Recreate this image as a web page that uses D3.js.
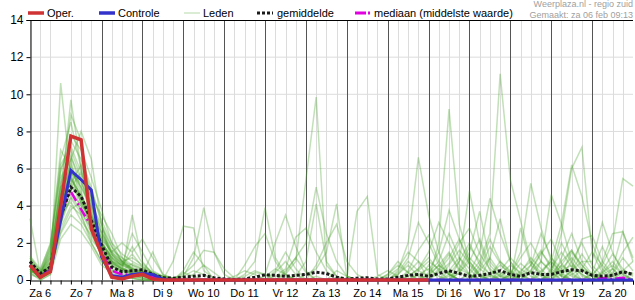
<!DOCTYPE html>
<html>
<head>
<meta charset="utf-8">
<script src="https://cdn.jsdelivr.net/npm/d3@7"></script>
<style>
  body { margin: 0; background: #fff; }
  svg { display: block; font-family: "Liberation Sans", Arial, sans-serif; }
</style>
</head>
<body>
<div id="chart"></div>
<script>
// day labels (shown at noon of each day)
const dayLabels = ['Za 6', 'Zo 7', 'Ma 8', 'Di 9', 'Wo 10', 'Do 11', 'Vr 12', 'Za 13',
                   'Zo 14', 'Ma 15', 'Di 16', 'Wo 17', 'Do 18', 'Vr 19', 'Za 20']
const yTicks = [0, 2, 4, 6, 8, 10, 12, 14]

// neerslag in mm per 6 uur, vanaf za 6 feb 06:00
const oper = [0.8, 0.15, 0.45, 4.0, 7.75, 7.55, 2.75, 1.4, 0.15, 0.05, 0.2, 0.3, 0.05, 0, 0,
  0, 0, 0, 0, 0, 0, 0, 0, 0, 0, 0, 0, 0, 0, 0, 0, 0, 0, 0, 0, 0, 0, 0, 0, 0]

const controle = [0.8, 0.15, 0.5, 3.2, 5.9, 5.4, 4.85, 1.25, 0.25, 0.15, 0.3, 0.35, 0.3, 0.05, 0,
  0, 0, 0, 0, 0, 0, 0, 0, 0, 0, 0, 0, 0, 0, 0, 0, 0, 0, 0, 0, 0, 0, 0, 0, 0,
  0, 0, 0, 0, 0, 0, 0, 0, 0, 0, 0, 0, 0, 0, 0, 0, 0, 0, 0, 0]

const gemiddelde = [1.0, 0.35, 0.7, 3.4, 5.0, 4.5, 3.2, 1.9, 0.7, 0.45, 0.5, 0.55, 0.3, 0.12, 0.1,
  0.15, 0.2, 0.25, 0.12, 0.05, 0.03, 0.05, 0.15, 0.28, 0.25, 0.2, 0.25, 0.3, 0.42, 0.35, 0.15,
  0.05, 0.1, 0.12, 0.05, 0.05, 0.15, 0.25, 0.3, 0.2, 0.35, 0.5, 0.35, 0.2, 0.25, 0.35, 0.5,
  0.3, 0.2, 0.4, 0.3, 0.3, 0.45, 0.55, 0.5, 0.25, 0.2, 0.25, 0.45, 0.3]

const mediaan = [0.8, 0.25, 0.55, 3.7, 4.75, 3.8, 2.9, 1.5, 0.5, 0.3, 0.3, 0.35, 0.15, 0.02, 0,
  0, 0, 0, 0, 0, 0, 0, 0, 0, 0, 0, 0, 0, 0, 0, 0, 0, 0, 0, 0, 0, 0, 0, 0, 0,
  0, 0, 0, 0, 0, 0, 0, 0, 0, 0, 0, 0, 0, 0, 0, 0, 0.1, 0.05, 0.12, 0]

const leden = [
  [0.8,0.2,0.6,10.6,5.5,4.2,3.0,1.8,0.9,0.6,0.4,0.3,0.2,0.1,0, 0,0,0,0, 0,0,0.2,0.5, 0.3,0,0,0, 0,0.2,0,0, 0,0,0,0, 0,0.3,1.0,0.5, 0.2,0.8,1.5,0.6, 0.3,0,0.2,1.0, 0.5,0,0,0.3, 1.2,0.6,0.2,0, 0,0.4,1.0,0.3, 0],
  [0.6,0.1,0.9,4.5,9.7,6.0,3.5,2.0,1.2,0.8,0.5,0.3,0.1,0,1.0, 2.9,2.8,0.5,0.1, 0,0,0,0, 0,0,0.1,0, 0,0,0,0, 0,0,0,0.2, 0.5,0.2,0,0, 0,0,0.3,1.0, 2.0,0.8,0.3,0, 0,0.2,0.5,1.5, 0.8,0.2,0,0, 0.3,0,0,0.5, 1.0],
  [1.0,0.3,1.5,5.0,8.9,7.5,4.0,2.5,1.5,1.0,0.8,0.6,0.3,0.1,0, 0.2,1.2,3.9,1.5, 0.3,0,0,0, 0,0,0,0, 0,0,0,0, 0,0,0,0, 0,0,0,0.3, 0.6,0.2,0,0, 0,0.5,1.2,0.4, 0.1,0,0.8,1.6, 0.6,0.2,1.0,2.0, 0.8,0.2,0,0, 0],
  [0.5,0.2,0.8,3.5,6.5,8.0,6.5,3.0,1.4,0.9,0.6,0.4,0.2,0.1,0.1, 0.3,0.8,1.6,1.5, 0.6,0.1,0,0, 0,0,0.5,1.2, 0.4,0,0,0, 0,0,0,0, 0,0,0,0, 0,0.5,1.2,2.2, 1.0,0.3,0,0, 0.2,0.9,0.4,0, 0,0.3,1.5,0.8, 0.2,0,0.3,1.2, 0.5],
  [3.3,0.4,1.2,4.0,5.5,4.5,3.2,2.0,1.0,0.5,0.3,0.2,0.1,0,0, 0,0,0,0, 0,0,0.3,1.0, 3.9,1.2,0.3,0, 0,0,0,0, 0,0,0,0, 0,0,0.2,0.6, 1.5,3.1,2.0,0.8, 0.3,0,0,0.2, 0.5,0.2,0,0, 0,0.5,0.8,0.3, 0,0,0.6,2.6, 1.2],
  [0.7,0.1,0.4,3.0,4.5,3.8,2.5,1.5,0.8,0.4,3.5,1.0,0.3,0.1,0, 0,0,0,0, 0,0,0,0.4, 0.3,2.0,3.5,1.8, 0.5,0,0,0, 0,0,0,0, 0,0,0,0, 0,0,0.2,0.5, 1.5,3.7,1.0,0.3, 0,0,0,0.5, 1.0,0.4,0,0, 0,0.5,1.4,0.6, 0.2],
  [0.9,0.3,1.8,6.0,7.0,5.5,3.5,2.2,1.5,2.0,1.5,2.2,1.2,0.3,0.1, 0.2,0.5,0.3,0, 0,0,0.8,1.8, 2.5,1.0,0.2,0, 0,0,0,0, 0,0,0,0, 0,0.4,1.2,3.1, 2.0,0.8,0.3,0, 0,0,0,0, 0.3,1.2,2.0,1.0, 0.4,0,0,0, 0,0,0,0, 0],
  [0.4,0.1,0.5,2.5,3.5,3.0,2.0,1.0,0.5,0.3,0.2,0.1,0,0,0, 0,0,0,0, 0,0,0,0, 0,0.2,0.6,2.3, 2.8,1.5,0.5,0, 0,0,0,0, 0,0,0,0.5, 1.0,0.6,0.3,0, 0,0.8,2.2,1.0, 0.4,0,0,0, 0,1.2,2.5,1.0, 0.3,0,0,0, 0],
  [1.2,0.5,2.0,6.5,8.5,6.0,4.5,3.5,2.5,1.2,0.6,0.3,0.2,0,0, 0,0,0,0, 0,0,0,0, 0,0,0.3,1.0, 5.4,9.85,0.8,0.2, 0,0,0,0, 0,0,0,0, 0,0,0,0.4, 1.2,0.6,0.2,0, 0,0,0.5,1.4, 2.2,0.9,0.3,0, 0,0,0.2,0.5, 0.3],
  [0.6,0.2,0.7,4.0,6.0,5.0,3.8,2.8,1.8,1.0,1.2,0.8,0.4,0.2,0.1, 0,0,0,0, 0,0,0,0, 0,0,0.4,1.2, 2.0,5.0,2.5,1.0, 0.2,0,0,0, 0,0,0,0, 0,0,0,0, 0.4,1.5,4.4,2.5, 1.0,0.3,0,0, 0,0,0,0.6, 1.5,0.8,0.2,0, 0],
  [0.8,0,0.3,3.2,5.0,4.5,3.0,1.8,0.7,0.5,0.9,0.6,0.3,0.1,0, 0,0,0,0, 0,0.2,0.5,0.3, 0,0,0,0.2, 1.0,4.1,1.0,0.2, 0,0,0,0, 0.3,0.8,0.4,0, 0,0,0,0, 0,0,0,0, 0.3,1.5,5.2,2.8, 1.0,0.2,0,0, 0,0,0,0, 0],
  [0.5,0.3,1.0,5.5,6.5,4.0,2.8,1.2,0.6,0.3,0.1,0,0,0,0, 0,0,0,0, 0,0,0,0, 0,0,0,0, 0.3,0.6,1.5,4.1, 0.2,0,0,0, 0,0,0,0, 0,0,0,0.6, 1.8,1.0,0.3,0, 0,0,0,0, 0.3,1.0,1.6,0.8, 0.2,0,0,0, 0],
  [1.1,0.4,1.4,4.8,7.5,6.5,5.0,3.0,1.0,0.6,0.5,0.4,0.3,0.2,0.1, 0,0.3,0.8,0.4, 0,0,0,0, 0,0,0,0, 0,0.8,2.0,3.0, 1.0,0.3,0,0, 0,0,0,0, 0,0,0.8,1.6, 0.9,0.2,0,0, 0,0,0,0, 0,0.6,1.2,0.5, 0.2,1.0,2.5,2.6, 1.0],
  [0.3,0.1,0.5,2.8,4.0,3.5,2.2,1.5,1.0,0.8,0.6,0.5,0.2,0,0, 0,0,0,0, 0,0,0,0, 0,0,0,0, 0,0,0,0, 0.1,3.7,4.5,0.3, 0,0,0.2,0.6, 1.2,0.5,0,0, 0,0,0,0.5, 1.2,0.6,0.2,0, 0,0,0,0, 0,0.3,0.6,0.2, 0],
  [0.7,0.2,0.6,3.8,5.8,5.2,4.2,2.0,1.2,0.8,2.5,1.5,0.5,0.2,0, 0,0,0,0, 0,0,0,0, 0,0,0,0, 0,0,0,0, 0,0,0,0, 0,0.5,2.0,6.6, 3.5,1.5,0.3,0, 0,0,0.3,0.8, 0.4,0,0,0, 0,0,0.5,1.4, 0.6,0,0,0, 0],
  [0.9,0.3,1.1,5.2,6.8,4.8,3.0,2.0,1.3,0.9,0.7,0.4,0.2,0.1,0, 0,0,0,0, 0,0,0,0, 0,0,0,0, 0,0,0,0, 0,0,0,0, 0,0,0,0.3, 0,2.0,9.2,3.0, 1.0,0.3,0,0, 0,0,0.4,1.0, 0.5,0,0,0, 0,0,0.4,1.5, 2.3],
  [0.6,0.1,0.4,3.4,4.8,4.0,3.4,2.6,1.6,1.2,0.8,0.5,0.3,0.1,0, 0,0,0,0, 0,0,0,0, 0,0,0,0, 0,0,0,0, 0,0,0,0, 0.2,0.6,1.5,1.0, 0.5,1.5,3.75,2.2, 0.8,0.2,0,0, 0,0.4,1.2,0.6, 0,0,0.5,1.0, 1.0,3.1,1.5,0.4, 0],
  [1.0,0.4,1.6,7.0,6.0,3.5,2.0,1.0,0.5,0.2,0.1,0,0,0,0, 0,0,0,0, 0,0,0,0, 0,0,0,0, 0,0,0,0, 0,0,0,0, 0,0,0.4,1.0, 0,0,0,1.0, 4.8,2.0,0.5,0, 0,0,0,0, 0.6,1.5,0.7,0, 0,0,0,0, 0],
  [0.5,0.2,0.9,4.2,5.2,6.2,4.8,3.2,2.0,1.4,1.0,0.7,0.4,0.2,0.1, 0,0,0,0, 0,0,0,0, 0,0,0,0, 0,0,0,0, 0,0,0,0, 0,0,0,0, 0,0,0,0, 0.3,1.0,2.5,11.1, 5.4,3.2,1.0,0.2, 0,0,0,0, 0,0,0,0, 0],
  [0.8,0.3,0.7,3.6,4.2,3.2,2.4,1.4,0.9,0.6,0.4,0.3,1.5,0.3,0, 0,0,0,0, 0,0,0,0, 0.2,0.6,0.3,0, 0,0,0,0, 0,0,0,0, 0,0,0,0, 0,0,0.5,1.2, 0.6,0,0,0, 0,0,0,1.0, 4.6,3.0,1.0,0.2, 0,0.4,0.8,0.3, 0],
  [0.4,0,0.3,2.2,3.0,2.6,1.8,0.8,0.4,0.2,0.1,0,0,0,0, 0,0,0,0, 0,0,0,0, 0,0,0,0, 0,0,0,0, 0,0,0,0, 0,0,0,0, 0,0,0,0, 0,0,0,0.3, 0.8,0.4,0,0, 0.5,2.5,6.0,7.15, 1.5,0.4,0,0, 0],
  [1.3,0.6,1.9,5.8,7.8,7.0,5.5,3.8,2.0,1.0,0.5,0.3,0.1,0,0, 0,0,0,0, 0,0,0,0, 0,0,0,0, 0,0,0,0, 0,0,0,0, 0,0.3,0.8,0.2, 0,0,0,0, 0,0,0,0, 0,0.5,1.0,0.4, 1.0,3.0,6.2,4.5, 2.0,0.6,0,0, 0],
  [0.6,0.2,0.8,4.4,5.6,4.4,3.6,2.4,1.4,0.7,0.3,0.2,0.1,0,0, 0,0,0,0, 0,0,0,0, 0,0,0,0, 0,0,0,0, 0,0,0,0, 0,0,0,0, 0.3,0.8,0.4,0, 0,0,0,0, 0,0,0,0, 0,0,0.3,0.6, 0.3,0.8,2.0,5.46, 5.05],
  [0.9,0.1,0.5,3.0,5.0,5.8,3.8,1.8,0.8,0.5,0.3,0.1,0,0,0, 0.5,1.5,0.8,0, 0,0,0,0, 0,0.4,1.0,0.3, 0,0,0,0, 0,0,0,0, 0,0,0,0, 0.4,1.0,2.5,1.2, 0.3,0,1.2,3.3, 1.0,0,0,0, 0,0,0,0, 0,0,0,0, 0],
  [0.7,0.3,1.2,4.6,6.2,4.6,2.6,1.6,1.0,0.7,1.8,0.9,0.4,0.1,0, 0,0,0,0, 0,0,0,0, 0,0,0,0, 0,0,0,0.5, 0.2,0,0,0, 0,0,0,0, 0,0,0,0, 0,0,0,0, 0,2.8,0.8,0.3, 0,0.8,1.6,0.6, 0,0,0,0, 0.4],
  [0.5,0.2,0.6,3.3,4.4,3.6,2.8,2.0,1.2,0.6,0.3,0.2,0.1,0,0, 0,0,0,0, 0,0,0,0, 0,0,0,0, 0,0,0,0, 0,0,0,0, 0,0,0,0, 0.8,0,0,0.4, 1.0,2.2,0.8,0.2, 0,0,0,0, 0,0,0,0, 0.4,1.8,0.6,0, 0],
  [1.0,0.4,1.3,5.0,5.8,5.0,4.0,3.0,1.8,1.0,0.6,0.4,0.2,0.1,0, 0,0,0,0, 0,0,0,0, 0,0,0,0, 0,0,0,0, 0,0,0,0, 0.3,1.0,0.4,0, 0,0,0,0, 0,0,0,0, 0,0,0,0, 0,0,0,0, 0,0,0,0, 0],
  [0.8,0.2,0.6,3.9,6.6,5.4,3.3,1.7,0.9,0.4,0.2,0.1,0,0,0, 0,0,0,0, 0,0,0,0, 0,0.5,1.5,0.6, 0,0,0,0, 0,0,0,0, 0,0,0,0, 0,0,0,0, 0,0,0,0, 0,0,0,0, 0,0,0,0, 0,0,0,0, 0],
  [0.6,0.1,0.5,2.6,3.8,4.2,3.0,1.9,1.1,0.8,1.4,0.7,0.3,0.1,0, 0,0,0,0, 0,0,0,0, 0,0,0,0, 0,0,0,0, 0,0,0,0, 0,0,0,0, 0,0.6,1.4,0.5, 0,0,0,0, 0,0,0,0, 0.2,0.8,0.4,0, 0,0,0,0, 0],
  [1.2,0.5,1.7,6.2,7.2,5.8,4.4,2.6,1.4,0.9,0.5,0.3,0.2,0.1,0, 0.4,0.2,0,0, 0,0,0,0, 0,0,0,0, 0,0,0,0, 0,0,0,0, 0,0,0,0, 0,0,0,0, 0,0,0,0, 0,0.3,0.8,2.5, 1.2,0.3,0,0, 0,0,0,0, 0],
  [0.7,0.2,0.8,4.0,5.4,4.6,3.4,2.2,1.0,0.6,0.4,0.2,0.1,0,0, 0,0,0,0, 0,0,0,0, 0,0,0,0, 0,0,0,0, 0,0,0,0, 0,0,0.5,1.6, 2.4,1.0,0.3,0, 0,0.6,1.8,0.9, 0.2,0,0,0, 0.4,2.0,0.9,0.3, 0,0,0,0, 0],
  [0.9,0.3,1.0,4.6,5.2,4.2,3.2,2.3,1.5,1.0,0.6,0.4,0.2,0.1,0, 0,0,0,0, 0,0,0,0, 0,0,0,0, 0,0,0,0, 0,0,0,0, 0,0,0,0, 0,0.4,0.9,2.0, 2.8,1.4,0.6,0.2, 0,0,0,0, 0,0,0.6,2.2, 2.4,1.0,0.3,0, 0]
]

const width = 635
const height = 300
const margin = {top: 20, right: 2, bottom: 20, left: 30}

const start = new Date(2021, 1, 6, 6)
const end = new Date(2021, 1, 21, 0)
const timeOf = i => d3.timeHour.offset(start, i * 6)

const x = d3.scaleTime()
    .domain([start, end])
    .range([margin.left, width - margin.right])

const y = d3.scaleLinear()
    .domain([0, 14])
    .range([height - margin.bottom, margin.top])

const svg = d3.select("#chart")
    .append("svg")
    .attr("width", width)
    .attr("height", height)

// grid: horizontal lines, 6-hourly verticals, dark day lines
svg.append("g")
    .selectAll("line")
    .data(yTicks.filter(t => t > 0 && t < 14))
    .join("line")
    .attr("x1", margin.left).attr("x2", width - margin.right)
    .attr("y1", d => y(d)).attr("y2", d => y(d))
    .style("stroke", "#dcdcdc")

const sixHours = d3.timeHour.every(6).range(start, end)
svg.append("g")
    .selectAll("line")
    .data(sixHours.filter(t => t.getHours() !== 0))
    .join("line")
    .attr("x1", d => Math.round(x(d)) + 0.5).attr("x2", d => Math.round(x(d)) + 0.5)
    .attr("y1", y(14)).attr("y2", y(0))
    .style("stroke", "#dcdcdc")

const days = d3.timeDay.range(d3.timeDay.offset(start, 1), end)
svg.append("g")
    .selectAll("line")
    .data(days)
    .join("line")
    .attr("x1", d => Math.round(x(d)) + 0.5).attr("x2", d => Math.round(x(d)) + 0.5)
    .attr("y1", y(14)).attr("y2", y(0))
    .style("stroke", "#555")

// axes
const yAxis = svg.append("g")
    .attr("transform", `translate(${margin.left + 0.5},0)`)
    .call(d3.axisLeft(y).tickValues(yTicks).tickSize(4).tickPadding(3))
yAxis.select(".domain").attr("stroke", "#000")
yAxis.selectAll("text").style("font-size", "12px").style("fill", "#000")

svg.append("line")
    .attr("x1", margin.left).attr("x2", width - margin.right)
    .attr("y1", y(14) + 0.5).attr("y2", y(14) + 0.5)
    .style("stroke", "#000")

const xAxis = svg.append("g")
    .attr("transform", `translate(0,${y(0) + 0.5})`)
    .call(d3.axisBottom(x).tickValues(sixHours.concat([end])).tickSize(4).tickFormat(""))
xAxis.select(".domain").attr("stroke", "#000")

svg.append("g")
    .selectAll("text")
    .data(dayLabels)
    .join("text")
    .attr("x", (d, i) => x(new Date(2021, 1, 6 + i, 12)))
    .attr("y", 297)
    .attr("text-anchor", "middle")
    .style("font-size", "11px")
    .text(d => d)

// lines
const line = d3.line()
    .x((d, i) => x(timeOf(i)))
    .y(d => y(d))

svg.append("g")
    .selectAll("path")
    .data(leden)
    .join("path")
    .attr("d", line)
    .style("fill", "none")
    .style("stroke", "rgb(70,160,40)")
    .style("stroke-width", 1.5)
    .style("stroke-opacity", 0.33)

svg.append("path")
    .attr("d", line(mediaan))
    .style("fill", "none")
    .style("stroke", "#e000e0")
    .style("stroke-width", 2.5)
    .style("stroke-dasharray", "10,3,2,3")

svg.append("path")
    .attr("d", line(gemiddelde))
    .style("fill", "none")
    .style("stroke", "#1a1a1a")
    .style("stroke-width", 3)
    .style("stroke-dasharray", "3,2")

svg.append("path")
    .attr("d", line(controle))
    .style("fill", "none")
    .style("stroke", "#3333cc")
    .style("stroke-width", 3)

svg.append("path")
    .attr("d", line(oper))
    .style("fill", "none")
    .style("stroke", "#d03333")
    .style("stroke-width", 3.5)

// legend
const legend = [
  {name: "Oper.", x: 28, color: "#d03333", w: 3.5, dash: null, op: 1},
  {name: "Controle", x: 99, color: "#3333cc", w: 3.5, dash: null, op: 1},
  {name: "Leden", x: 184, color: "rgb(70,160,40)", w: 1, dash: null, op: 0.4},
  {name: "gemiddelde", x: 257, color: "#1a1a1a", w: 3, dash: "3,2", op: 1},
  {name: "mediaan (middelste waarde)", x: 355, color: "#e000e0", w: 3, dash: "11,2,2,10", op: 1}
]
const lg = svg.append("g").selectAll("g").data(legend).join("g")
lg.append("line")
    .attr("x1", d => d.x).attr("x2", d => d.x + 16)
    .attr("y1", 13).attr("y2", 13)
    .style("stroke", d => d.color)
    .style("stroke-width", d => d.w)
    .style("stroke-opacity", d => d.op)
    .style("stroke-dasharray", d => d.dash)
lg.append("text")
    .attr("x", d => d.x + (d.name === "gemiddelde" ? 20 : 19))
    .attr("y", 17)
    .style("font-size", "11px")
    .text(d => d.name)

svg.append("text")
    .attr("x", 633).attr("y", 7)
    .attr("text-anchor", "end")
    .style("font-size", "9px")
    .style("fill", "#a0a0a0")
    .text("Weerplaza.nl - regio zuid")
svg.append("text")
    .attr("x", 633).attr("y", 18)
    .attr("text-anchor", "end")
    .style("font-size", "9px")
    .style("fill", "#a0a0a0")
    .text("Gemaakt: za 06 feb 09:13")
</script>
</body>
</html>
